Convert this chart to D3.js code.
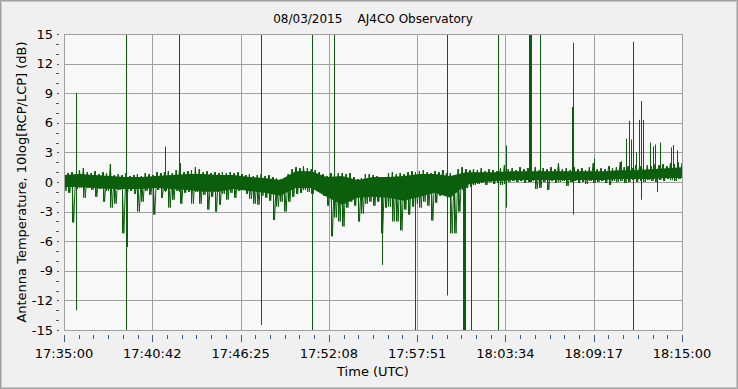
<!DOCTYPE html>
<html>
<head>
<meta charset="utf-8">
<script src="https://cdn.jsdelivr.net/npm/d3@7/dist/d3.min.js"></script>
<style>
  html, body { margin: 0; padding: 0; background: #f0f0f0; }
  svg { display: block; }
  text { font-family: "DejaVu Sans", Verdana, sans-serif; fill: #000; }
</style>
</head>
<body>
<svg id="chart" width="738" height="389"></svg>
<script>
// ---- Data ----
const chartTitle = "08/03/2015    AJ4CO Observatory";
const xTitle = "Time (UTC)";
const yTitle = "Antenna Temperature, 10log[RCP/LCP] (dB)";
const xTickLabels = ["17:35:00","17:40:42","17:46:25","17:52:08","17:57:51","18:03:34","18:09:17","18:15:00"];
const yTickValues = [-15,-12,-9,-6,-3,0,3,6,9,12,15];
const spanSeconds = 2400;       // 17:35:00 -> 18:15:00
const sampleStep = 15;          // seconds between band samples
const bodyStep = 60;            // seconds between solid-body samples

// upper edge of the noise band, one value every 15 s (dB)
const bandHigh = [
 1.1,0.9,1.0,0.8,1.2,1.4,1.0,0.9,1.1,0.8, 1.0,0.9,1.8,0.7,0.8,0.7,0.9,0.6,0.7,0.8,
 0.6,0.9,0.8,0.7,1.0,0.9,1.0,1.1,0.9,1.2, 1.9,1.0,1.1,1.2,1.5,1.3,1.0,1.1,0.9,1.0,
 0.9,1.0,0.9,1.0,0.9,1.0,0.8,0.7,0.8,0.6, 0.7,0.8,0.6,0.7,0.5,0.4,0.3,0.4,0.8,1.3,
 1.5,1.4,1.6,1.4,1.3,1.2,1.0,0.8,0.6,0.9, 0.8,0.9,0.9,0.8,0.9,0.5,0.3,0.4,0.8,0.8,
 0.7,0.6,0.2,0.4,0.9,1.0,0.8,0.9,0.8,1.0, 1.1,1.0,1.1,1.2,1.0,0.9,1.1,1.0,1.2,0.9,
 0.9,0.6,1.3,1.5,1.3,1.2,1.3,1.2,1.4,1.1, 1.3,1.2,1.1,1.4,1.7,1.3,1.4,1.2,1.5,1.3,
 1.4,1.3,1.5,1.2,1.4,1.3,1.5,1.3,1.9,1.3, 1.4,1.2,1.5,1.3,1.4,1.2,1.5,1.9,1.3,1.4,
 1.3,1.6,1.4,1.5,2.0,1.5,1.6,1.4,1.7,1.6, 1.5,1.7,1.6,1.8,1.7,1.8,1.6,1.9,1.8,2.0,
 1.9
];
// lower edge of the noise band, one value every 15 s (dB)
const bandLow = [
 -0.9,-1.1,-4.1,-0.7,-0.6,-1.6,-0.6,-0.8,-1.5,-0.7, -2.0,-0.9,-2.6,-2.2,-0.8,-5.2,-1.0,-0.9,-1.2,-3.0,
 -2.0,-0.9,-1.3,-3.3,-0.8,-1.6,-0.9,-2.6,-1.8,-0.9, -2.2,-1.1,-1.0,-2.2,-1.0,-2.2,-1.3,-2.8,-1.5,-3.0,
 -2.3,-1.2,-1.8,-1.1,-1.6,-0.9,-0.8,-1.2,-1.7,-2.2, -2.3,-1.4,-1.6,-1.9,-3.85,-2.5,-2.0,-3.0,-2.0,-1.5,
 -1.2,-1.1,-0.8,-1.0,-1.2,-0.5,-0.8,-1.4,-2.4,-5.5, -3.6,-4.0,-4.5,-2.6,-2.0,-2.4,-4.0,-3.2,-2.2,-2.0,
 -2.4,-2.0,-5.2,-2.6,-2.5,-4.0,-4.0,-4.9,-2.8,-3.3, -2.5,-2.2,-2.6,-2.0,-2.4,-3.9,-2.1,-1.4,-1.2,-1.1,
 -5.2,-5.2,-3.0,-0.8,-0.6,-0.5,-0.3,-0.2,-0.1,-0.3, 0.0,-0.2,-0.1,-0.3,-0.2,0.0,0.1,0.0,0.1,-0.1,
 0.0,0.1,-0.7,-0.6,0.0,-0.8,0.1,-0.1,0.0,0.1, -0.4,0.0,0.1,-0.1,0.0,-0.2,0.1,-0.1,0.0,0.1,
 -0.1,-0.3,0.1,0.0,0.1,-0.1,0.0,0.2,0.0,0.1, 0.0,0.2,0.1,0.0,0.2,0.1,0.3,0.2,0.1,0.3,
 0.2
];
// solid core of the band, one value every 60 s (dB)
const bodyTop = [
 0.7,0.8,0.7,0.6,0.5,0.5,0.6,0.7,0.8,0.8, 0.7,0.7,0.5,0.4,0.2,1.1,1.1,0.5,0.6,0.2,
 0.5,0.5,0.6,0.8,0.8,0.6,1.0,1.0,1.0,1.1, 1.1,1.1,1.1,1.1,1.1,1.1,1.2,1.2,1.3,1.4,
 1.5
];
const bodyBottom = [
 -0.5,-0.5,-0.6,-0.7,-0.7,-0.7,-0.6,-0.7,-0.8,-1.0, -1.0,-0.7,-0.9,-1.1,-1.4,-0.6,-0.6,-1.5,-2.3,-1.6,
 -1.5,-1.6,-1.9,-1.5,-1.1,-1.6,-0.3,0.0,0.1,0.2, 0.2,0.2,0.2,0.2,0.2,0.2,0.3,0.3,0.3,0.4,
 0.4
];
// isolated spikes: time (s after 17:35:00), lowest and highest value (dB)
const spikeTime = [47,241,245,392,445,765,965,1050,1236,1363,1488,1548,1552,1556,1579,1687,1716,1804,1808,1812,1850,1973,1976,2058,2164,2183,2194,2203,2211,2222,2234,2242,2249,2277,2288,2296,2304,2315,2358,2366,2382];
const spikeLow  = [-13,-15,-6.6,-1,-1,-14.5,-15,-1,-8.4,-15,-11.5,-15,-15,-15,-15,-15,-2.6,0,0,0,0,0,-3.3,0.5,0.5,0.5,0.5,0.5,-15,0.5,0.5,-1.8,0.5,0.5,0.5,0.5,-1.0,0.5,0.5,0.5,0.5];
const spikeHigh = [9,15,0.5,3.6,15,15,15,15,0,0.5,15,0.5,0.5,0.5,0.5,15,3.7,15,15,15,15,7.6,14.1,2.4,2.1,4.4,6.2,4.3,14.2,3.0,6.3,8.2,6.3,4.0,3.6,3.8,1.0,4.0,3.5,3.75,3.2];

// ---- Layout ----
const W = 738, H = 389;
const plot = { left: 64, right: 682, top: 34, bottom: 330 };
const lineColor = "#0b5e0b";
const gridColor = "#a0a0a0";

const svg = d3.select("#chart");

// outer frame
svg.append("rect").attr("x", 0.5).attr("y", 0.5).attr("width", W - 1).attr("height", H - 1)
  .attr("fill", "#f0f0f0").attr("stroke", "#a0a0a0").attr("stroke-width", 1);
svg.append("rect").attr("x", 1.5).attr("y", 1.5).attr("width", W - 3).attr("height", H - 3)
  .attr("fill", "none").attr("stroke", "#c8c8c8").attr("stroke-width", 1);

const x = d3.scaleLinear().domain([0, spanSeconds]).range([plot.left, plot.right]);
const y = d3.scaleLinear().domain([-15, 15]).range([plot.bottom, plot.top]);

// plot background
svg.append("rect").attr("x", plot.left).attr("y", plot.top)
  .attr("width", plot.right - plot.left).attr("height", plot.bottom - plot.top)
  .attr("fill", "#f8f8f8");

const majorX = xTickLabels.map((d, i) => i * spanSeconds / (xTickLabels.length - 1));
const minorX = d3.range(0, (xTickLabels.length - 1) * 6 + 1).map(i => i * spanSeconds / ((xTickLabels.length - 1) * 6));

// grid
const grid = svg.append("g").attr("stroke", gridColor).attr("stroke-width", 1).attr("shape-rendering", "crispEdges");
grid.selectAll("line.h").data(yTickValues).join("line")
  .attr("x1", plot.left).attr("x2", plot.right)
  .attr("y1", d => Math.round(y(d)) + 0.5).attr("y2", d => Math.round(y(d)) + 0.5);
grid.selectAll("line.v").data(majorX).join("line")
  .attr("y1", plot.top).attr("y2", plot.bottom)
  .attr("x1", d => Math.round(x(d)) + 0.5).attr("x2", d => Math.round(x(d)) + 0.5);

// data
const clipId = "plotclip";
svg.append("clipPath").attr("id", clipId).append("rect")
  .attr("x", plot.left).attr("y", plot.top)
  .attr("width", plot.right - plot.left + 1).attr("height", plot.bottom - plot.top + 1);

const dataG = svg.append("g").attr("clip-path", `url(#${clipId})`);

// solid core of the noise band
const body = bodyTop.map((v, j) => ({ t: j * bodyStep, top: v, bottom: bodyBottom[j] }));
const area = d3.area()
  .x(d => x(d.t))
  .y0(d => y(d.bottom))
  .y1(d => y(d.top));
dataG.append("path").datum(body).attr("d", area)
  .attr("fill", lineColor);

// jagged trace linking the band edges
const samples = bandHigh.map((h, k) => ({ t: k * sampleStep, hi: h, lo: bandLow[k] }));
const zig = [];
samples.forEach(s => {
  zig.push([s.t, s.hi]);
  zig.push([s.t + sampleStep / 2, s.lo]);
});
const line = d3.line().x(d => x(d[0])).y(d => y(d[1]));
dataG.append("path").datum(zig).attr("d", line)
  .attr("fill", "none").attr("stroke", lineColor).attr("stroke-width", 1);

// needles: full extent of the noise in each 15 s sample
dataG.selectAll("line.needle").data(samples).join("line")
  .attr("class", "needle")
  .attr("x1", d => Math.round(x(d.t)) + 0.5).attr("x2", d => Math.round(x(d.t)) + 0.5)
  .attr("y1", d => y(d.lo)).attr("y2", d => y(d.hi))
  .attr("stroke", lineColor).attr("stroke-width", 1);

dataG.selectAll("line.spike").data(spikeTime).join("line")
  .attr("class", "spike")
  .attr("x1", d => Math.round(x(d)) + 0.5).attr("x2", d => Math.round(x(d)) + 0.5)
  .attr("y1", (d, i) => y(spikeLow[i])).attr("y2", (d, i) => y(spikeHigh[i]))
  .attr("stroke", lineColor).attr("stroke-width", 1);

// plot border
svg.append("rect").attr("x", plot.left + 0.5).attr("y", plot.top + 0.5)
  .attr("width", plot.right - plot.left).attr("height", plot.bottom - plot.top)
  .attr("fill", "none").attr("stroke", gridColor).attr("shape-rendering", "crispEdges");

// y axis ticks & labels
const yAxisG = svg.append("g").attr("shape-rendering", "crispEdges");
const yMinor = d3.range(-15, 16, 1).filter(v => v % 3 !== 0);
yAxisG.selectAll("line.minor").data(yMinor).join("line")
  .attr("x1", 56).attr("x2", 59)
  .attr("y1", d => Math.round(y(d)) + 0.5).attr("y2", d => Math.round(y(d)) + 0.5)
  .attr("stroke", "#555");
yAxisG.selectAll("line.major").data(yTickValues).join("line")
  .attr("x1", 57).attr("x2", 59)
  .attr("y1", d => Math.round(y(d)) + 0.5).attr("y2", d => Math.round(y(d)) + 0.5)
  .attr("stroke", "#555");
svg.append("g").selectAll("text").data(yTickValues).join("text")
  .attr("x", 53).attr("y", d => y(d)).attr("dy", "0.36em")
  .attr("text-anchor", "end").attr("font-size", 13)
  .text(d => d);

// x axis ticks & labels
const xAxisG = svg.append("g").attr("shape-rendering", "crispEdges").attr("stroke", "#3a5a8a");
xAxisG.selectAll("line.minor").data(minorX).join("line")
  .attr("x1", d => Math.round(x(d)) + 0.5).attr("x2", d => Math.round(x(d)) + 0.5)
  .attr("y1", 335).attr("y2", 339);
xAxisG.selectAll("line.major").data(majorX).join("line")
  .attr("x1", d => Math.round(x(d)) + 0.5).attr("x2", d => Math.round(x(d)) + 0.5)
  .attr("y1", 335).attr("y2", 342);
svg.append("g").selectAll("text").data(xTickLabels).join("text")
  .attr("x", (d, i) => x(majorX[i])).attr("y", 358)
  .attr("text-anchor", "middle").attr("font-size", 13)
  .text(d => d);

// titles
svg.append("text").attr("x", 373).attr("y", 23).attr("text-anchor", "middle")
  .attr("font-size", 12).style("white-space", "pre").text(chartTitle);
svg.append("text").attr("x", 373).attr("y", 376).attr("text-anchor", "middle")
  .attr("font-size", 13).text(xTitle);
svg.append("text").attr("transform", "translate(26,182) rotate(-90)")
  .attr("text-anchor", "middle").attr("font-size", 13).text(yTitle);
</script>
</body>
</html>
